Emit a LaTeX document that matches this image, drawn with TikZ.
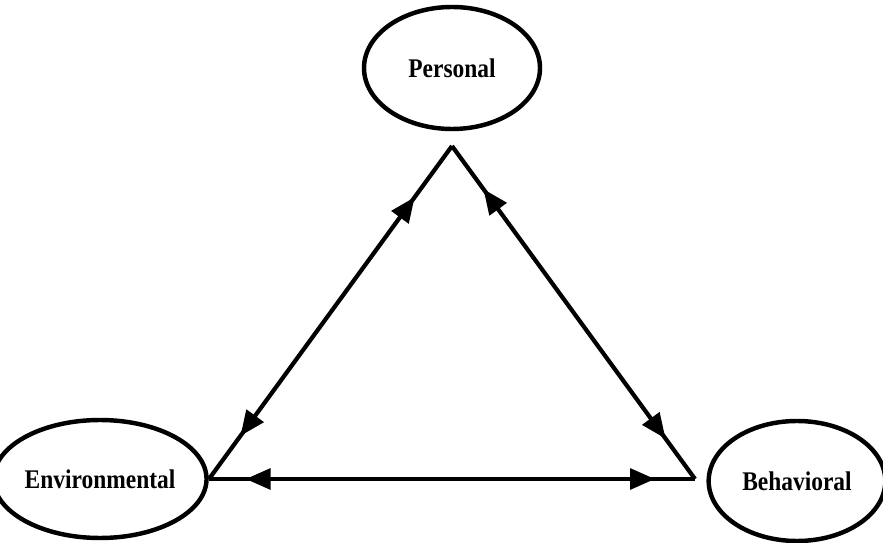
\documentclass[tikz,border=0pt]{standalone}
\usepackage{fontspec}
\setmainfont{Liberation Serif}
\newfontfamily\labelfont{Liberation Serif}[FakeStretch=0.87]
\usetikzlibrary{shapes.geometric,arrows.meta,decorations.markings}

\tikzset{
  headtip/.tip={Triangle[length=0.75cm,width=0.62cm]},
  factor/.style={ellipse, draw, inner sep=0pt, line width=3.8pt,
    font=\labelfont\fontsize{23}{27}\selectfont\bfseries},
  link/.style 2 args={line join=miter, postaction={decorate},
    decoration={markings,
      mark=at position #1 with {\arrowreversed{headtip}},
      mark=at position -#2 with {\arrow{headtip}}}}
}

\begin{document}
\begin{tikzpicture}[x=0.03cm, y=-0.03cm, line width=3.6pt]
  \useasboundingbox (0,0) rectangle (883,543);
  % corners of the triangle
  \coordinate (top) at (452,146);
  \coordinate (lft) at (209,479);
  \coordinate (rgt) at (695,479);
  % the three factors
  \node[factor, minimum width=5.28cm, minimum height=3.66cm] (personal) at (452,68) {Personal};
  \node[factor, minimum width=5.46cm, minimum height=3.54cm] (environ) at (100,479) {Environmental};
  \node[factor, minimum width=5.3cm, minimum height=3.6cm] (behav) at (797,481) {Behavioral};
  % reciprocal links
  \draw[link={1.9cm}{1.6cm}] (top) -- (lft);
  \draw[link={1.6cm}{1.5cm}] (top) -- (rgt);
  \draw[link={1.1cm}{1.2cm}] (lft) -- (rgt);
\end{tikzpicture}
\end{document}
